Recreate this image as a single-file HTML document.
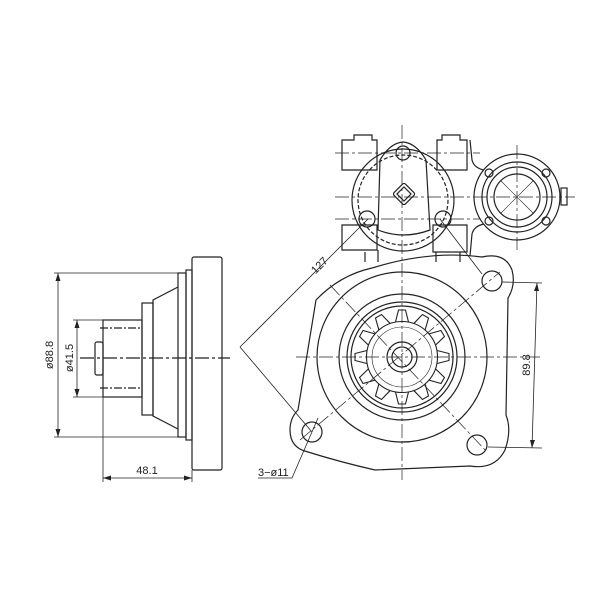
<!DOCTYPE html>
<html><head><style>body{margin:0;background:#fff}svg{display:block}</style></head><body>
<svg width="600" height="600" viewBox="0 0 600 600" xmlns="http://www.w3.org/2000/svg" font-family="Liberation Sans, sans-serif">
<rect width="600" height="600" fill="#fff"/>
<g fill="none" stroke="#222" stroke-width="1.2">
<!-- LEFT VIEW -->
<rect x="192" y="257" width="30" height="213" rx="2"/>
<rect x="186" y="270" width="6" height="170"/>
<rect x="178" y="273" width="8" height="164"/>
<path d="M178 287 L153 300 L153 416 L178 429"/>
<rect x="142" y="303" width="11" height="112"/>
<rect x="103" y="320" width="39" height="77"/>
<rect x="95" y="342" width="8" height="33" rx="2"/>
<line x1="100" y1="328" x2="142" y2="328" stroke-dasharray="8,2,2,2"/>
<line x1="100" y1="388" x2="142" y2="388" stroke-dasharray="8,2,2,2"/>
<line x1="80" y1="358" x2="230" y2="358" stroke-dasharray="14,3,3,3"/>
<g stroke-width="0.8">
<line x1="54" y1="273" x2="178" y2="273"/><line x1="54" y1="437" x2="178" y2="437"/>
<line x1="58" y1="273" x2="58" y2="437"/>
<line x1="73" y1="320" x2="103" y2="320"/><line x1="73" y1="397" x2="103" y2="397"/>
<line x1="77" y1="320" x2="77" y2="397"/>
<line x1="103" y1="397" x2="103" y2="482"/><line x1="192" y1="470" x2="192" y2="482"/>
<line x1="103" y1="478" x2="192" y2="478"/>
</g>
<!-- RIGHT VIEW flange -->
<path d="M372 268 Q430 250 482 257 Q505 252 512 270 Q516 285 508 298 L506 415 Q512 430 505 450 Q495 470 470 466 L375 470 Q340 462 308 452 Q290 448 290 430 Q290 418 298 410 L316 300 Q340 275 372 268 Z"/>
<circle cx="402" cy="357" r="85"/>
<circle cx="402" cy="357" r="63"/>
<circle cx="402" cy="357" r="55"/>
<circle cx="402" cy="357" r="51"/>
<circle cx="402" cy="357" r="15"/>
<circle cx="402" cy="357" r="10"/>
<circle cx="492" cy="281" r="10"/>
<circle cx="312" cy="432" r="10"/>
<circle cx="477" cy="445" r="10"/>
<!-- head -->
<circle cx="403" cy="200" r="51"/>
<circle cx="403" cy="200" r="45" stroke-dasharray="4,2"/>
<path d="M342 140 h12 v-5 h18 v5 h5 v30 h-35 z"/>
<path d="M437 140 h5 v-5 h18 v5 h7 v30 h-30 z"/>
<path d="M342 225 h35 v25 h-35 z"/>
<path d="M433 225 h34 v27 h-34 z"/>
<path d="M380 160 Q390 143 403 142 Q416 143 426 160 L430 230 Q403 240 378 230 Z"/>
<circle cx="403" cy="153" r="7"/>
<circle cx="367" cy="219" r="8"/>
<circle cx="443" cy="219" r="8"/>
<rect x="396" y="186" width="16" height="16" transform="rotate(45 404 194)" rx="2"/>
<rect x="399" y="189" width="10" height="10" transform="rotate(45 404 194)"/>
<line x1="378" y1="250" x2="378" y2="262"/><line x1="436" y1="252" x2="436" y2="262"/>
<line x1="365" y1="252" x2="365" y2="262"/><line x1="460" y1="252" x2="460" y2="262"/>
<path d="M470 140 L472 160 Q474 168 484 170"/>
<path d="M470 256 L472 234 Q474 226 484 224"/>
<!-- right solenoid -->
<circle cx="517" cy="197" r="43"/>
<circle cx="517" cy="197" r="35"/>
<circle cx="517" cy="197" r="30"/>
<circle cx="517" cy="197" r="23"/>
<circle cx="489" cy="173" r="4"/><circle cx="546" cy="173" r="4"/>
<circle cx="489" cy="221" r="4"/><circle cx="546" cy="221" r="4"/>
<rect x="561" y="188" width="6" height="17"/>
<line x1="501" y1="181" x2="533" y2="213" stroke-width="0.6"/><line x1="533" y1="181" x2="501" y2="213" stroke-width="0.6"/>
<g stroke-width="0.7" stroke-dasharray="14,3,3,3">
<line x1="296" y1="357" x2="540" y2="357"/>
<line x1="402" y1="125" x2="402" y2="480"/>
<line x1="335" y1="197" x2="575" y2="197"/>
<line x1="517" y1="145" x2="517" y2="250"/>
<line x1="335" y1="153" x2="480" y2="153"/>
<line x1="335" y1="219" x2="480" y2="219"/>
<line x1="300" y1="440" x2="500" y2="272"/>
<line x1="330" y1="285" x2="487" y2="452"/>
</g>
<g stroke-width="0.8">
<line x1="240" y1="347" x2="368" y2="219"/>
<line x1="240" y1="347" x2="312" y2="432"/>
<line x1="440" y1="219" x2="482" y2="274"/>
<line x1="502" y1="282" x2="542" y2="283"/>
<line x1="488" y1="447" x2="542" y2="448"/>
<line x1="537" y1="283" x2="532" y2="448"/>
<path d="M258 478 H292 L318 418"/>
</g>
</g>
<g fill="#222">
<polygon points="58,273 55.5,281 60.5,281"/><polygon points="58,437 55.5,429 60.5,429"/>
<polygon points="77,320 74.5,328 79.5,328"/><polygon points="77,397 74.5,389 79.5,389"/>
<polygon points="103,478 111,475.5 111,480.5"/><polygon points="192,478 184,475.5 184,480.5"/>
<polygon points="537,283 534,291 539,291"/><polygon points="532,448 530,440 535,440"/>
</g>
<g font-size="11" fill="#222">
<text x="147" y="474" text-anchor="middle">48.1</text>
<text transform="translate(53 355) rotate(-90)" text-anchor="middle">ø88.8</text>
<text transform="translate(73 358) rotate(-90)" text-anchor="middle">ø41.5</text>
<text transform="translate(530 365) rotate(-90)" text-anchor="middle">89.8</text>
<text transform="translate(322 268) rotate(-45)" text-anchor="middle">127</text>
<text x="258" y="476">3−ø11</text>
</g>
<g fill="none" stroke="#222" stroke-width="1.1">
<path d="M395.5 322 L398.5 310 L405.5 310 L408.5 322" transform="rotate(0 402 357)"/>
<path d="M395.5 322 L398.5 310 L405.5 310 L408.5 322" transform="rotate(30 402 357)"/>
<path d="M395.5 322 L398.5 310 L405.5 310 L408.5 322" transform="rotate(60 402 357)"/>
<path d="M395.5 322 L398.5 310 L405.5 310 L408.5 322" transform="rotate(90 402 357)"/>
<path d="M395.5 322 L398.5 310 L405.5 310 L408.5 322" transform="rotate(120 402 357)"/>
<path d="M395.5 322 L398.5 310 L405.5 310 L408.5 322" transform="rotate(150 402 357)"/>
<path d="M395.5 322 L398.5 310 L405.5 310 L408.5 322" transform="rotate(180 402 357)"/>
<path d="M395.5 322 L398.5 310 L405.5 310 L408.5 322" transform="rotate(210 402 357)"/>
<path d="M395.5 322 L398.5 310 L405.5 310 L408.5 322" transform="rotate(240 402 357)"/>
<path d="M395.5 322 L398.5 310 L405.5 310 L408.5 322" transform="rotate(270 402 357)"/>
<path d="M395.5 322 L398.5 310 L405.5 310 L408.5 322" transform="rotate(300 402 357)"/>
<path d="M395.5 322 L398.5 310 L405.5 310 L408.5 322" transform="rotate(330 402 357)"/>
<circle cx="402" cy="357" r="35.5"/>
<circle cx="402" cy="357" r="30" stroke-width="0.6"/>
</g>
</svg>
</body></html>
